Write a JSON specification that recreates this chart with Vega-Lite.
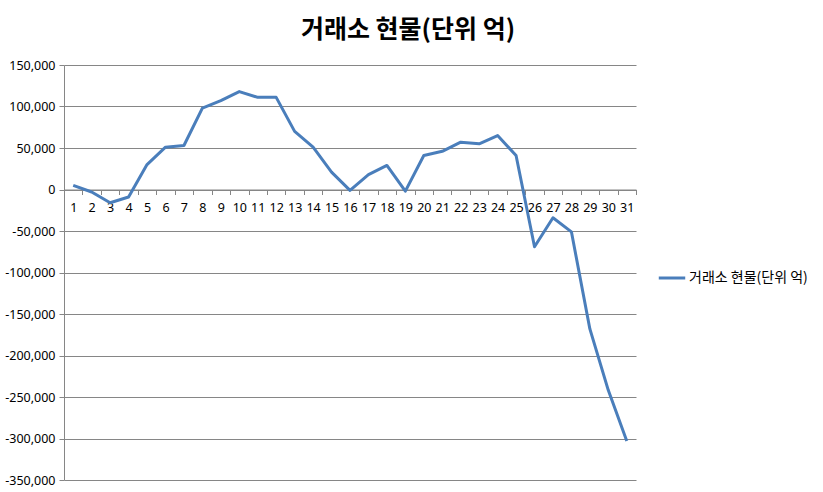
{
  "$schema": "https://vega.github.io/schema/vega-lite/v6.json",
  "width": 572,
  "height": 415,
  "autosize": "none",
  "padding": {"left": 64, "top": 65, "right": 187, "bottom": 12},
  "background": "white",
  "title": {
    "text": "거래소 현물(단위 억)",
    "font": "Noto Sans CJK KR",
    "fontSize": 25,
    "fontWeight": "bold",
    "color": "black",
    "anchor": "middle",
    "dx": 58,
    "offset": 16
  },
  "data": {
    "values": [
      {"day": 1, "value": 5000, "series": "거래소 현물(단위 억)"},
      {"day": 2, "value": -3000, "series": "거래소 현물(단위 억)"},
      {"day": 3, "value": -16000, "series": "거래소 현물(단위 억)"},
      {"day": 4, "value": -9000, "series": "거래소 현물(단위 억)"},
      {"day": 5, "value": 30000, "series": "거래소 현물(단위 억)"},
      {"day": 6, "value": 51000, "series": "거래소 현물(단위 억)"},
      {"day": 7, "value": 53000, "series": "거래소 현물(단위 억)"},
      {"day": 8, "value": 98000, "series": "거래소 현물(단위 억)"},
      {"day": 9, "value": 107000, "series": "거래소 현물(단위 억)"},
      {"day": 10, "value": 118000, "series": "거래소 현물(단위 억)"},
      {"day": 11, "value": 111000, "series": "거래소 현물(단위 억)"},
      {"day": 12, "value": 111000, "series": "거래소 현물(단위 억)"},
      {"day": 13, "value": 70000, "series": "거래소 현물(단위 억)"},
      {"day": 14, "value": 51000, "series": "거래소 현물(단위 억)"},
      {"day": 15, "value": 21000, "series": "거래소 현물(단위 억)"},
      {"day": 16, "value": -1000, "series": "거래소 현물(단위 억)"},
      {"day": 17, "value": 18000, "series": "거래소 현물(단위 억)"},
      {"day": 18, "value": 29000, "series": "거래소 현물(단위 억)"},
      {"day": 19, "value": -2000, "series": "거래소 현물(단위 억)"},
      {"day": 20, "value": 41000, "series": "거래소 현물(단위 억)"},
      {"day": 21, "value": 46000, "series": "거래소 현물(단위 억)"},
      {"day": 22, "value": 57000, "series": "거래소 현물(단위 억)"},
      {"day": 23, "value": 55000, "series": "거래소 현물(단위 억)"},
      {"day": 24, "value": 65000, "series": "거래소 현물(단위 억)"},
      {"day": 25, "value": 41000, "series": "거래소 현물(단위 억)"},
      {"day": 26, "value": -69000, "series": "거래소 현물(단위 억)"},
      {"day": 27, "value": -34000, "series": "거래소 현물(단위 억)"},
      {"day": 28, "value": -51000, "series": "거래소 현물(단위 억)"},
      {"day": 29, "value": -168000, "series": "거래소 현물(단위 억)"},
      {"day": 30, "value": -242000, "series": "거래소 현물(단위 억)"},
      {"day": 31, "value": -303000, "series": "거래소 현물(단위 억)"}
    ]
  },
  "mark": {"type": "line", "strokeWidth": 3, "strokeJoin": "round"},
  "encoding": {
    "x": {
      "field": "day",
      "type": "ordinal",
      "bandPosition": 0.5,
      "scale": {"type": "band", "paddingInner": 0, "paddingOuter": 0},
      "axis": {
        "title": null,
        "labelAngle": 0,
        "offset": -290.5,
        "tickBand": "extent",
        "grid": false,
        "domainColor": "#868686",
        "tickColor": "#868686",
        "tickSize": 5,
        "labelFont": "Noto Sans",
        "labelFontSize": 12.5,
        "labelColor": "black",
        "labelPadding": 7
      }
    },
    "y": {
      "field": "value",
      "type": "quantitative",
      "scale": {"domain": [-350000, 150000], "nice": false, "zero": false},
      "axis": {
        "title": null,
        "values": [-350000, -300000, -250000, -200000, -150000, -100000, -50000, 0, 50000, 100000, 150000],
        "format": ",d",
        "labelExpr": "replace(datum.label, '−', '-')",
        "gridColor": "#868686",
        "gridWidth": 1,
        "domainColor": "#868686",
        "tickColor": "#868686",
        "tickSize": 5,
        "labelFont": "Noto Sans",
        "labelFontSize": 12.5,
        "labelColor": "black",
        "labelPadding": 4
      }
    },
    "color": {
      "field": "series",
      "type": "nominal",
      "scale": {"range": ["#4A7EBB"]},
      "legend": {
        "title": null,
        "orient": "none",
        "legendX": 593,
        "legendY": 198,
        "symbolType": "stroke",
        "symbolStrokeWidth": 3,
        "symbolSize": 700,
        "labelFont": "Noto Sans CJK KR",
        "labelFontSize": 14,
        "labelColor": "black",
        "labelOffset": 2
      }
    }
  },
  "config": {"view": {"stroke": null}}
}
